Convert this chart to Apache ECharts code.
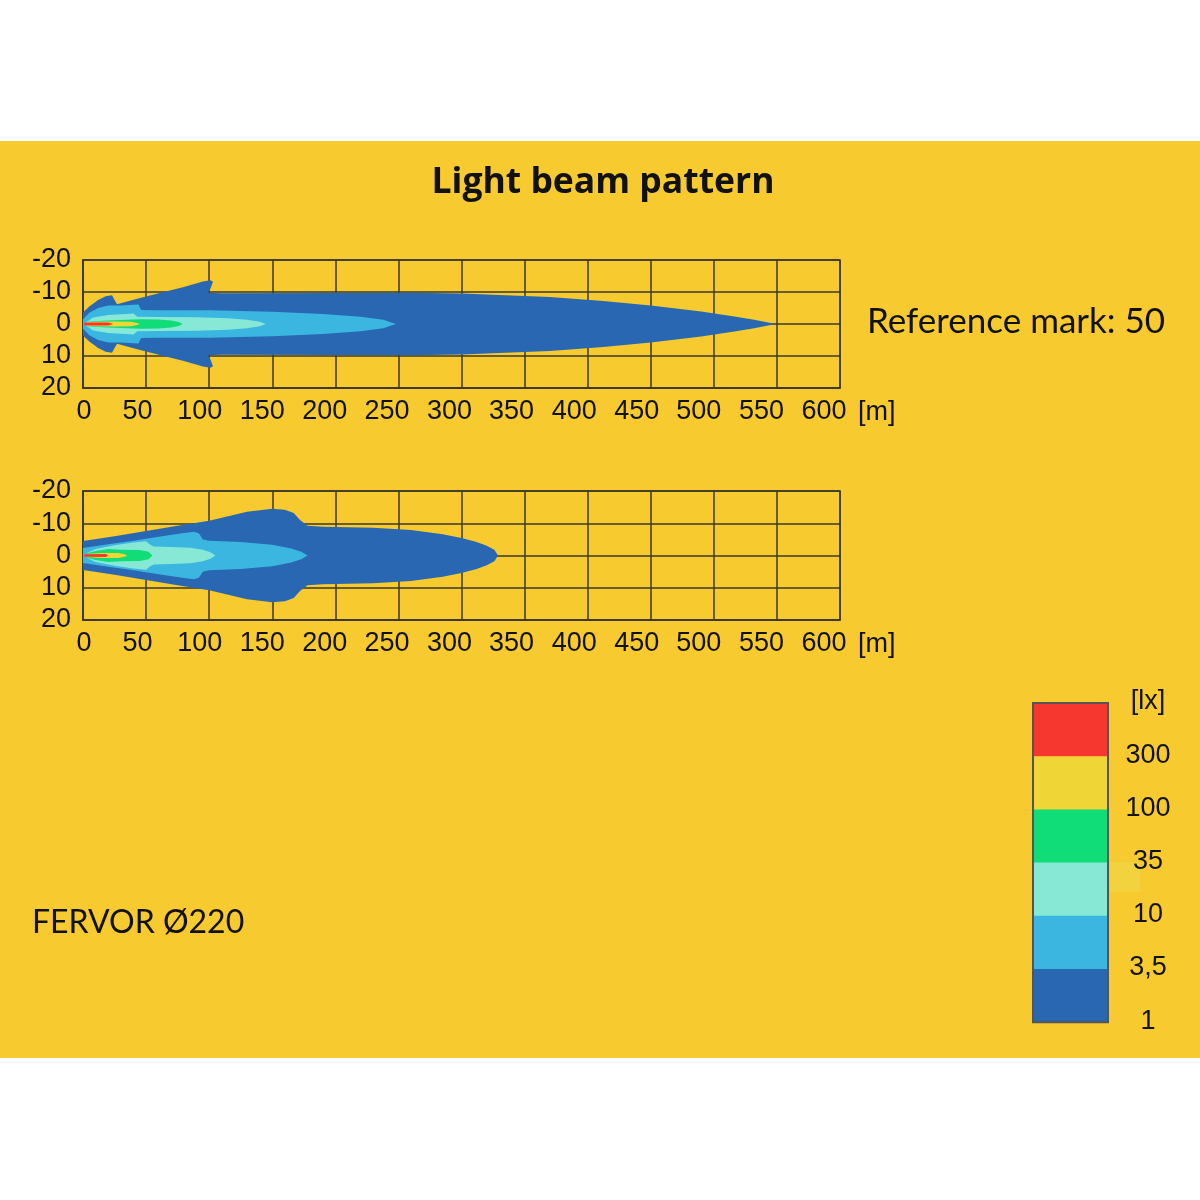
<!DOCTYPE html>
<html>
<head>
<meta charset="utf-8">
<script src="https://cdn.jsdelivr.net/npm/echarts@6/dist/echarts.min.js"></script>
<style>html,body{margin:0;padding:0;background:#fff}#c{width:1200px;height:1200px}</style>
</head>
<body>
<div id="c"></div>
<script>
// ---- data ----
const titleText = 'Light beam pattern';
const referenceText = 'Reference mark: 50';
const productText = 'FERVOR Ø220';
const xUnit = '[m]';
const xMin = 0, xMax = 600, xStep = 50;
const yMin = -20, yMax = 20, yStep = 10;
const levelLabels = ['1', '3,5', '10', '35', '100', '300'];
const levelColors = ['#2A67B3', '#3AB6E0', '#88E8D6', '#10DD78', '#EFD535', '#F5372F'];
const legendLabels = ['[lx]', '300', '100', '35', '10', '3,5', '1'];

// half-width profiles [distance m, half width m] per illuminance level (top chart)
const topDark = [[0,3.6],[5,5.5],[12,7.5],[18,8.7],[23,9.0],[25,7.5],[27,6.2],[40,7.6],[60,9.6],[80,11.6],[95,13.3],[101,13.7],[103,13.2],[101,11],[99,9.8],[110,9.6],[200,9.7],[260,9.8],[300,9.5],[330,9.1],[370,8.4],[410,7.3],[450,5.8],[490,3.9],[515,2.4],[532,1.3],[549,0]];
const topLightBlue = [[0,1.5],[5,3.5],[12,5.0],[20,5.8],[30,5.8],[44,6.1],[46,4.4],[60,4.3],[100,4.3],[150,3.8],[190,3.1],[220,2.3],[238,1.3],[248,0]];
const topAqua = [[2,0.5],[8,2.0],[20,2.8],[40,3.3],[43,2.3],[60,2.2],[90,2.1],[115,1.8],[130,1.3],[140,0.7],[145,0]];
const topGreen = [[3,0.7],[20,1.1],[45,1.5],[60,1.4],[70,1.1],[76,0.6],[79,0]];
const topYellow = [[3,0.6],[25,0.8],[38,0.7],[43,0.35],[45,0]];
const topRed = [[1,0.45],[20,0.5],[24,0]];

// bottom chart
const botDark = [[0,4.5],[25,6.0],[50,7.6],[75,9.2],[100,10.8],[115,12.2],[130,13.6],[150,14.5],[160,14.2],[167,13.2],[172,11],[178,9.2],[190,8.9],[230,8.6],[260,7.9],[285,6.6],[300,5.4],[312,4.2],[320,3.0],[326,1.8],[329,0]];
const botLightBlue = [[0,2.3],[20,3.5],[40,4.6],[60,5.8],[80,7.0],[88,7.4],[92,6.8],[95,5.0],[100,4.6],[125,4.2],[150,3.3],[165,2.2],[173,1.2],[178,0]];
const botAqua = [[3,0.8],[10,2.0],[25,3.2],[40,4.0],[50,4.4],[53,3.4],[56,2.8],[70,2.6],[85,2.4],[95,1.8],[101,1.0],[105,0]];
const botGreen = [[2,0.6],[10,1.4],[20,2.0],[30,1.8],[45,1.7],[52,1.2],[55,0]];
const botYellow = [[2,0.5],[15,0.8],[28,0.8],[33,0.4],[35,0]];
const botRed = [[1,0.4],[18,0.45],[20,0]];

const topSet = [topDark, topLightBlue, topAqua, topGreen, topYellow, topRed];
const botSet = [botDark, botLightBlue, botAqua, botGreen, botYellow, botRed];

// ---- chart ----
const chart = echarts.init(document.getElementById('c'), null, {renderer: 'canvas'});
const gridColor = '#3b382c';
const labelFont = '"Liberation Sans"';
const labelSize = 27;

// per-label horizontal shift (labels in the reference sit slightly left of their grid lines)
const xRich = {};
for (let v = xMin; v <= xMax; v += xStep) {
  const shift = v === 0 ? -2 : Math.round(2 * (8 + 0.0137 * v));
  xRich['k' + v] = {fontSize: labelSize, fontFamily: labelFont, color: '#111',
    padding: shift >= 0 ? [0, shift, 0, 0] : [0, 0, 0, -shift]};
}

function makeX(idx) {
  return {
    type: 'value', gridIndex: idx, min: xMin, max: xMax, interval: xStep,
    name: xUnit, nameLocation: 'end', nameGap: 18,
    nameTextStyle: {fontSize: labelSize, color: '#111', fontFamily: labelFont, verticalAlign: 'top', padding: [11, 0, 0, 0]},
    axisLine: {show: true, onZero: false, lineStyle: {color: gridColor, width: 1.5}},
    axisTick: {show: false},
    splitLine: {show: true, lineStyle: {color: gridColor, width: 1.5}},
    axisLabel: {fontSize: labelSize, color: '#111', fontFamily: labelFont, margin: 10,
      formatter: v => '{k' + v + '|' + v + '}', rich: xRich}
  };
}
function makeY(idx) {
  return {
    type: 'value', gridIndex: idx, min: yMin, max: yMax, interval: yStep, inverse: true,
    axisLine: {show: true, onZero: false, lineStyle: {color: gridColor, width: 1.5}},
    axisTick: {show: false},
    splitLine: {show: true, lineStyle: {color: gridColor, width: 1.5}},
    axisLabel: {fontSize: labelSize, color: '#111', fontFamily: labelFont, margin: 12}
  };
}
function beamSeries(idx, set) {
  return {
    type: 'custom', xAxisIndex: idx, yAxisIndex: idx, clip: true, silent: true,
    data: set.map((p, i) => [0, 0, i]),
    encode: {x: 0, y: 1},
    renderItem: function (params, api) {
      const prof = set[params.dataIndex];
      const pts = [];
      for (let k = 0; k < prof.length; k++) pts.push(api.coord([prof[k][0], -prof[k][1]]));
      for (let k = prof.length - 1; k >= 0; k--) pts.push(api.coord([prof[k][0], prof[k][1]]));
      return {type: 'polygon', shape: {points: pts}, style: {fill: levelColors[params.dataIndex], stroke: null}};
    },
    z: 3
  };
}

// legend graphics built from arrays
const legendEls = [];
const barX = 1033, barTop = 703, segH = 53.2, barW = 75;
const nLev = levelColors.length;
for (let i = 0; i < nLev; i++) {
  legendEls.push({type: 'rect', shape: {x: barX, y: barTop + i * segH, width: barW, height: segH + 0.5},
    style: {fill: levelColors[nLev - 1 - i]}, z: 10});
}
legendEls.push({type: 'rect', shape: {x: barX, y: barTop, width: barW, height: segH * nLev},
  style: {fill: null, stroke: '#555', lineWidth: 2}, z: 11});
legendEls.push({type: 'rect', shape: {x: 1110, y: 862, width: 30, height: 30}, style: {fill: '#F2D33D'}, z: 9});
for (let i = 0; i < legendLabels.length; i++) {
  legendEls.push({type: 'text', x: 1148, y: barTop - 1 + i * segH,
    style: {text: legendLabels[i], fill: '#111', font: labelSize + 'px ' + labelFont, align: 'center', verticalAlign: 'middle'}, z: 12});
}

const option = {
  backgroundColor: '#ffffff',
  animation: false,
  graphic: [
    {type: 'rect', shape: {x: 0, y: 141, width: 1200, height: 917}, style: {fill: '#F7CA2F'}, z: -10},
    {type: 'text', x: 603, y: 183, style: {text: titleText, fill: '#111', font: 'bold 35.5px "Open Sans"', align: 'center', verticalAlign: 'middle'}},
    {type: 'text', x: 867, y: 322, style: {text: referenceText, fill: '#111', font: '35px Lato', align: 'left', verticalAlign: 'middle'}},
    {type: 'text', x: 32, y: 923, style: {text: productText, fill: '#111', font: '32px Lato', align: 'left', verticalAlign: 'middle'}}
  ].concat(legendEls),
  grid: [
    {left: 83, top: 260, width: 757, height: 128, show: true, borderColor: gridColor, borderWidth: 1.5},
    {left: 83, top: 491, width: 757, height: 129, show: true, borderColor: gridColor, borderWidth: 1.5}
  ],
  xAxis: [makeX(0), makeX(1)],
  yAxis: [makeY(0), makeY(1)],
  series: [beamSeries(0, topSet), beamSeries(1, botSet)]
};
chart.setOption(option);
</script>
</body>
</html>
